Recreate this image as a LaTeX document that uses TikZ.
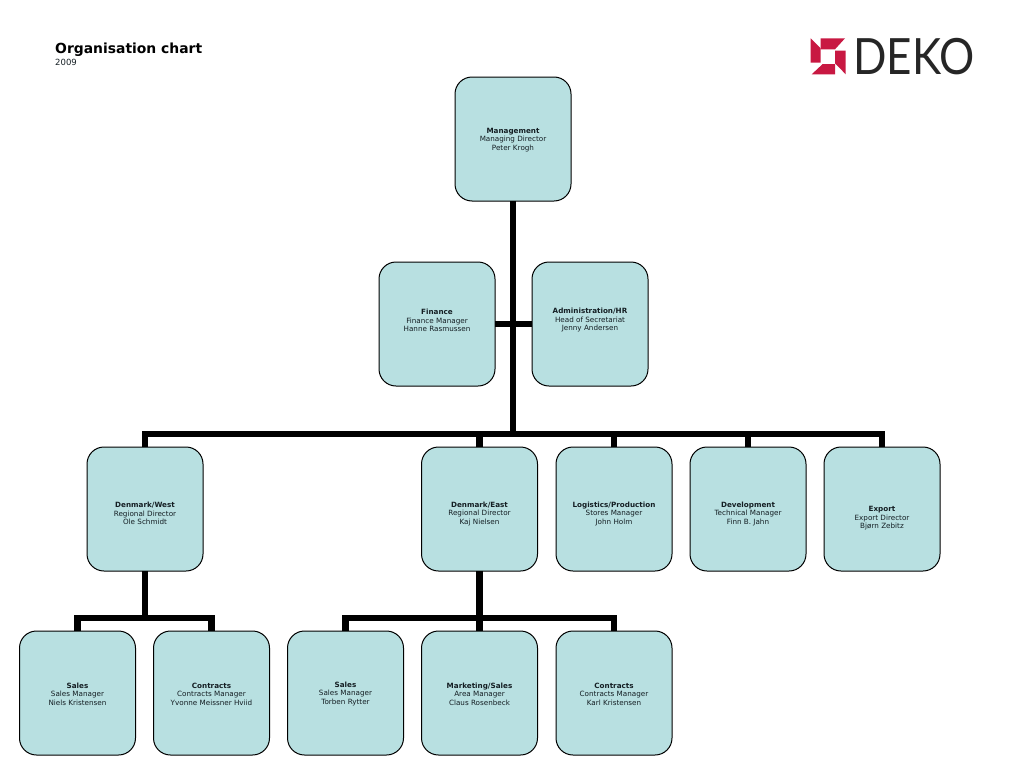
\documentclass[tikz,border=0pt]{standalone}
\usepackage{fontspec}
\setmainfont{DejaVu Sans}
\newfontfamily\logofont{Lato}
\definecolor{boxfill}{RGB}{184,224,225}
\definecolor{logored}{RGB}{200,24,66}
\definecolor{logotext}{RGB}{38,38,38}
\definecolor{boxtext}{RGB}{20,30,35}
\tikzset{
  orgbox/.style={draw=black,line width=1pt,fill=boxfill,rounded corners=17pt,
    minimum width=116pt,minimum height=124pt,inner sep=0pt,outer sep=0pt},
  orgtext/.style={align=center,inner sep=0pt,text=boxtext,
    font=\fontsize{7.2pt}{8.5pt}\selectfont},
  orgline/.style={line width=6.5pt,line cap=butt,line join=miter},
}
\begin{document}
\begin{tikzpicture}[x=1pt,y=-1pt]
\useasboundingbox (0,0) rectangle (1024,768);
% Heading
\node [anchor=west,inner sep=0pt,font=\bfseries\fontsize{13.9pt}{15pt}\selectfont] (heading) at (55,49.5) {Organisation chart};
\node [anchor=west,inner sep=0pt,font=\fontsize{8.5pt}{10pt}\selectfont,text=boxtext] (year) at (55,62) {2009};
% Logo
\fill [logored] (820.7,38.3)--(845,38.3)--(835,49.3)--(820.7,49.3)--cycle;
\fill [logored] (810.7,38.3)--(820.7,48.3)--(820.7,62.7)--(810.7,62.7)--cycle;
\fill [logored] (835,50.7)--(845.7,50.7)--(845.7,74.3)--(835,63.3)--cycle;
\fill [logored] (811.7,74.3)--(822.7,64)--(835,64)--(835,74.3)--cycle;
\node [anchor=west,inner sep=0pt,text=logotext,font=\logofont\fontsize{50pt}{50pt}\selectfont] (deko) at (853,56.5) {\scalebox{.88}[1]{DEKO}};
% Management
\node [orgbox] (mgmt) at (513,139) {};
\node [orgtext] (mgmttext) at (513,140) {\textbf{Management}\\Managing Director\\Peter Krogh};
% Staff functions
\node [orgbox] (finance) at (437,324) {};
\node [orgtext] (financetext) at (437,320.5) {\textbf{Finance}\\Finance Manager\\Hanne Rasmussen};
\node [orgbox] (admin) at (590,324) {};
\node [orgtext] (admintext) at (590,320.5) {\textbf{Administration/HR}\\Head of Secretariat\\Jenny Andersen};
% Departments
\node [orgbox] (west) at (145,509) {};
\node [orgtext] (westtext) at (145,513.7) {\textbf{Denmark/West}\\Regional Director\\Ole Schmidt};
\node [orgbox] (east) at (479.5,509) {};
\node [orgtext] (easttext) at (479.5,513.7) {\textbf{Denmark/East}\\Regional Director\\Kaj Nielsen};
\node [orgbox] (logistics) at (614,509) {};
\node [orgtext] (logisticstext) at (614,513.7) {\textbf{Logistics/Production}\\Stores Manager\\John Holm};
\node [orgbox] (devel) at (748,509) {};
\node [orgtext] (develtext) at (748,513.7) {\textbf{Development}\\Technical Manager\\Finn B. Jahn};
\node [orgbox] (export) at (882,509) {};
\node [orgtext] (exporttext) at (882,518.2) {\textbf{Export}\\Export Director\\Bjørn Zebitz};
% Under Denmark/West
\node [orgbox] (salesw) at (77.5,693) {};
\node [orgtext] (saleswtext) at (77.5,694) {\textbf{Sales}\\Sales Manager\\Niels Kristensen};
\node [orgbox] (contractsw) at (211.5,693) {};
\node [orgtext] (contractswtext) at (211.5,694) {\textbf{Contracts}\\Contracts Manager\\Yvonne Meissner Hviid};
% Under Denmark/East
\node [orgbox] (salese) at (345.5,693) {};
\node [orgtext] (salesetext) at (345.5,694) {\textbf{Sales}\\Sales Manager\\Torben Rytter};
\node [orgbox] (marketing) at (479.5,693) {};
\node [orgtext] (marketingtext) at (479.5,694) {\textbf{Marketing/Sales}\\Area Manager\\Claus Rosenbeck};
\node [orgbox] (contractse) at (614,693) {};
\node [orgtext] (contractsetext) at (614,694) {\textbf{Contracts}\\Contracts Manager\\Karl Kristensen};
% Branch points
\coordinate (mainbus) at (513,434);
\coordinate (westbus) at (145,618);
\coordinate (eastbus) at (479.5,618);
% Trunk and staff branch
\draw [orgline] (mgmt.south) -- (mainbus);
\draw [orgline] (finance.east) -- (admin.west);
% Department bus
\draw [orgline] (west.north) |- (mainbus) -| (export.north);
\draw [orgline] (east.north) -- (east.north |- mainbus);
\draw [orgline] (logistics.north) -- (logistics.north |- mainbus);
\draw [orgline] (devel.north) -- (devel.north |- mainbus);
% Denmark/West branch
\draw [orgline] (west.south) -- (westbus);
\draw [orgline] (salesw.north) |- (westbus) -| (contractsw.north);
% Denmark/East branch
\draw [orgline] (east.south) -- (marketing.north);
\draw [orgline] (salese.north) |- (eastbus) -| (contractse.north);
\end{tikzpicture}
\end{document}
